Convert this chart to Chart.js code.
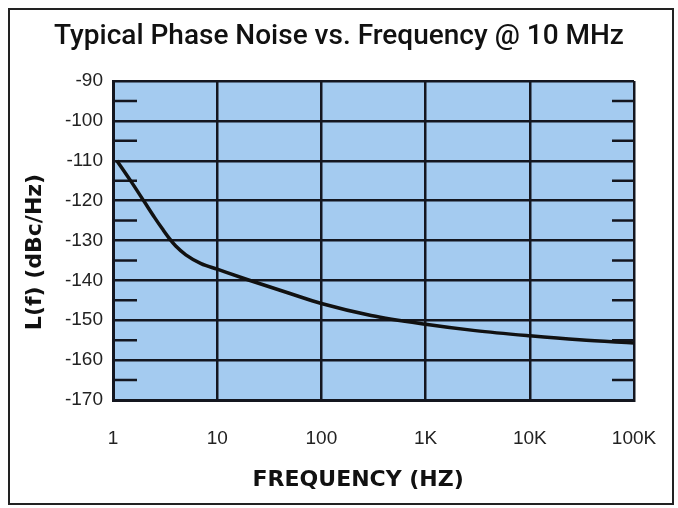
<!DOCTYPE html>
<html>
<head>
<meta charset="utf-8">
<script src="https://cdn.jsdelivr.net/npm/chart.js@4.4.1/dist/chart.umd.min.js"></script>
<style>
  html, body { margin: 0; padding: 0; background: #ffffff; }
  #wrap { width: 678px; height: 508px; }
</style>
</head>
<body>
<div id="wrap"><canvas id="c" width="678" height="508"></canvas></div>
<script>
// ---- data ----
const frequencies = [1.09, 1.5, 2, 2.5, 3, 3.5, 4, 5, 7, 10, 20, 50, 100, 300, 1000, 3000, 10000, 30000, 100000];
const phaseNoise  = [-110, -115.3, -120.3, -124.2, -127.2, -129.6, -131.4, -133.6, -135.8, -137.2, -139.9, -143.3, -145.8, -148.8, -151, -152.6, -153.9, -154.9, -155.7];
const xTickValues = [1, 10, 100, 1000, 10000, 100000];
const xTickLabels = ['1', '10', '100', '1K', '10K', '100K'];
const yMinorTicks = [-95, -105, -115, -125, -135, -145, -155, -165];
const titleText = 'Typical Phase Noise vs. Frequency @ 10 MHz';
const xTitleText = 'FREQUENCY (HZ)\u00a0\u00a0\u00a0\u00a0';
const yTitleText = 'L(f) (dBc/Hz)\u00a0\u00a0\u00a0';

const INK = '#14161f';
const PLOT_BG = '#a4cbf0';

const framePlugin = {
  id: 'framePlugin',
  beforeDraw(chart) {
    const ctx = chart.ctx;
    const a = chart.chartArea;
    ctx.save();
    ctx.fillStyle = '#ffffff';
    ctx.fillRect(0, 0, chart.width, chart.height);
    ctx.strokeStyle = '#222222';
    ctx.lineWidth = 2;
    ctx.strokeRect(9, 9, chart.width - 14, chart.height - 13);
    ctx.fillStyle = PLOT_BG;
    ctx.fillRect(a.left, a.top, a.right - a.left, a.bottom - a.top);
    ctx.restore();
  },
  beforeDatasetsDraw(chart) {
    const ctx = chart.ctx;
    const a = chart.chartArea;
    const y = chart.scales.y;
    ctx.save();
    ctx.strokeStyle = INK;
    ctx.lineWidth = 2.5;
    yMinorTicks.forEach(v => {
      const py = y.getPixelForValue(v);
      ctx.beginPath();
      ctx.moveTo(a.left, py); ctx.lineTo(a.left + 24, py);
      ctx.moveTo(a.right - 22, py); ctx.lineTo(a.right, py);
      ctx.stroke();
    });
    ctx.restore();
  }
};

new Chart(document.getElementById('c'), {
  type: 'line',
  data: {
    datasets: [{
      data: frequencies.map((f, i) => ({ x: f, y: phaseNoise[i] })),
      borderColor: '#111111',
      borderWidth: 3.5,
      pointRadius: 0,
      fill: false,
      cubicInterpolationMode: 'monotone'
    }]
  },
  options: {
    responsive: false,
    animation: false,
    devicePixelRatio: 1,
    layout: { padding: 0 },
    plugins: {
      legend: { display: false },
      tooltip: { enabled: false },
      title: {
        display: true,
        text: titleText,
        color: '#111111',
        font: { family: 'Roboto', size: 28, weight: '500' },
        padding: { top: 20, bottom: 27.4 }
      }
    },
    scales: {
      x: {
        type: 'logarithmic',
        min: 1,
        max: 100000,
        afterBuildTicks(s) { s.ticks = xTickValues.map(v => ({ value: v })); },
        afterFit(s) { s.height = 108; },
        ticks: {
          autoSkip: false,
          maxRotation: 0,
          padding: 3,
          color: '#222222',
          font: { family: 'Liberation Sans', size: 19 },
          callback(v) { const i = xTickValues.indexOf(v); return i >= 0 ? xTickLabels[i] : ''; }
        },
        grid: { color: INK, lineWidth: 2.5, drawTicks: true, tickLength: 24, tickColor: 'rgba(0,0,0,0)' },
        border: { color: INK, width: 3 },
        title: {
          display: true,
          text: xTitleText,
          color: '#111111',
          font: { family: 'DejaVu Sans', size: 22, weight: 'bold' },
          padding: { top: 0, bottom: 15 }
        }
      },
      y: {
        type: 'linear',
        min: -170,
        max: -90,
        afterFit(s) { s.width = 113; },
        ticks: {
          stepSize: 10,
          padding: 10,
          color: '#222222',
          font: { family: 'Liberation Sans', size: 19 }
        },
        grid: { color: INK, lineWidth: 2.5, drawTicks: false },
        border: { color: INK, width: 3 },
        title: {
          display: true,
          text: yTitleText,
          color: '#111111',
          font: { family: 'DejaVu Sans', size: 22, weight: 'bold' },
          padding: { top: 22, bottom: 0 }
        }
      },
      yRight: {
        type: 'linear',
        position: 'right',
        display: true,
        afterFit(s) { s.width = 44; },
        ticks: { display: false },
        grid: { display: false, drawTicks: false },
        border: { display: false }
      }
    }
  },
  plugins: [framePlugin]
});
</script>
</body>
</html>
